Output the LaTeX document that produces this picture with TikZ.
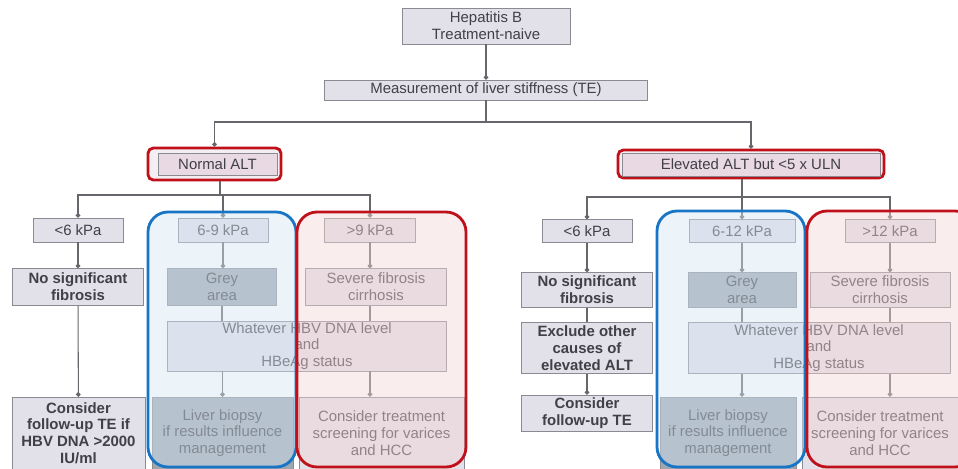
\documentclass[tikz,border=0pt]{standalone}
\usepackage{fontspec}
\setmainfont{Liberation Sans}
\usetikzlibrary{arrows.meta}
\definecolor{boxfill}{HTML}{E2E0E8}
\definecolor{boxline}{HTML}{8A8A92}
\definecolor{greyfill}{HTML}{9EA6AE}
\definecolor{txt}{HTML}{404046}
\definecolor{lnk}{HTML}{66666C}
\definecolor{hlred}{HTML}{C0101A}
\definecolor{hlblue}{HTML}{1874C4}
\definecolor{pinkfill}{HTML}{E8D9E2}
\tikzset{
  box/.style={draw=boxline, fill=boxfill, text=txt, align=center, inner sep=1pt,
    font=\fontsize{8.5}{9.5}\selectfont},
  greybox/.style={box, fill=greyfill},
  strong/.style={font=\fontsize{8.5}{9.5}\selectfont\bfseries},
  tight/.style={font=\fontsize{8.5}{9.3}\selectfont},
  link/.style={draw=lnk, line width=0.6pt},
  tip/.style={link, -{Circle[length=2.6pt]}},
  redline/.style={draw=hlred, line width=1.6pt, rounded corners=3pt},
}
\begin{document}
\begin{tikzpicture}[x=0.02cm, y=-0.02cm]
    \useasboundingbox (0,0) rectangle (958,468);
    %
    \node[box, minimum width=3.36cm, minimum height=0.72cm] (hep) at (486,26) {Hepatitis B\\Treatment-naive};
    \node[box, minimum width=6.46cm, minimum height=0.40cm] (meas) at (486,90) {Measurement of liver stiffness (TE)};
    %
    \node[redline, fill=pinkfill!45, minimum width=2.66cm, minimum height=0.64cm] (normalHL) at (214.5,164) {};
    \node[box, fill=pinkfill, minimum width=2.38cm, minimum height=0.44cm] (normal) at (217.5,164) {Normal ALT};
    \node[redline, fill=pinkfill!45, minimum width=5.32cm, minimum height=0.56cm] (elevHL) at (751,164) {};
    \node[box, fill=pinkfill, minimum width=5.16cm, minimum height=0.46cm] (elev) at (751,164.5) {Elevated ALT but <5 x ULN};
    %
    % normal ALT branch
    \node[box, minimum width=1.80cm, minimum height=0.48cm] (lowA) at (78,230) {<6 kPa};
    \node[box, minimum width=1.80cm, minimum height=0.48cm] (midA) at (223,230) {6-9 kPa};
    \node[box, minimum width=1.82cm, minimum height=0.48cm] (highA) at (370,230) {>9 kPa};
    \node[box, strong, minimum width=2.62cm, minimum height=0.74cm] (noFibA) at (78,287) {No significant\\fibrosis};
    \node[greybox, minimum width=2.18cm, minimum height=0.74cm] (greyA) at (222,287) {Grey\\area};
    \node[box, minimum width=2.82cm, minimum height=0.74cm] (sevA) at (376,287) {Severe fibrosis\\cirrhosis};
    \node[box, tight, minimum width=5.58cm, minimum height=1.00cm] (whatA) at (307,346) {Whatever HBV DNA level\\and\\HBeAg status};
    \node[box, strong, minimum width=2.66cm, minimum height=1.44cm] (consA) at (78.5,433) {Consider\\follow-up TE if\\HBV DNA >2000\\IU/ml};
    \node[greybox, minimum width=2.82cm, minimum height=1.44cm] (bioA) at (222.5,433) {Liver biopsy\\if results influence\\management};
    \node[box, minimum width=3.30cm, minimum height=1.44cm] (treatA) at (381.5,433) {Consider treatment\\screening for varices\\and HCC};
    %
    % elevated ALT branch
    \node[box, minimum width=1.80cm, minimum height=0.46cm] (lowB) at (587,231) {<6 kPa};
    \node[box, minimum width=2.12cm, minimum height=0.46cm] (midB) at (742,231) {6-12 kPa};
    \node[box, minimum width=1.80cm, minimum height=0.46cm] (highB) at (890,231) {>12 kPa};
    \node[box, strong, minimum width=2.62cm, minimum height=0.70cm] (noFibB) at (587,290) {No significant\\fibrosis};
    \node[greybox, minimum width=2.16cm, minimum height=0.70cm] (greyB) at (742,290) {Grey\\area};
    \node[box, minimum width=2.80cm, minimum height=0.70cm] (sevB) at (880,290) {Severe fibrosis\\cirrhosis};
    \node[box, strong, minimum width=2.62cm, minimum height=1.02cm] (exclB) at (587,348) {Exclude other\\causes of\\elevated ALT};
    \node[box, tight, minimum width=5.24cm, minimum height=1.02cm] (whatB) at (819,348) {Whatever HBV DNA level\\and\\HBeAg status};
    \node[box, strong, minimum width=2.62cm, minimum height=0.72cm] (consB) at (587,413) {Consider\\follow-up TE};
    \node[greybox, minimum width=2.72cm, minimum height=1.44cm] (bioB) at (728,433) {Liver biopsy\\if results influence\\management};
    \node[box, minimum width=3.12cm, minimum height=1.44cm] (treatB) at (880,433) {Consider treatment\\screening for varices\\and HCC};
    %
    \coordinate (split) at (486,122);
    \coordinate (splitA) at (220,195);
    \coordinate (splitB) at (742,197);
    %
    \draw[tip] (hep) -- (meas);
    \draw[link] (meas) -- (split);
    \draw[tip] (split) -| (normalHL);
    \draw[tip] (split) -| (elevHL);
    %
    \draw[link] (normalHL.south -| splitA) -- (splitA);
    \draw[tip] (splitA) -| (lowA);
    \draw[tip] (splitA) -| (midA);
    \draw[tip] (splitA) -| (highA);
    \draw[tip] (lowA) -- (noFibA);
    \draw[tip] (midA) -- (midA |- greyA.north);
    \draw[tip] (highA) -- (highA |- sevA.north);
    \draw[tip] (noFibA) -- (consA);
    \draw[link] (greyA) -- (greyA |- whatA.north);
    \draw[link] (sevA.south -| highA) -- (highA |- whatA.north);
    \draw[tip] (whatA.south -| bioA) -- (bioA);
    \draw[tip] (whatA.south -| highA) -- (highA |- treatA.north);
    %
    \draw[link] (elevHL.south -| splitB) -- (splitB);
    \draw[tip] (splitB) -| (lowB);
    \draw[tip] (splitB) -- (midB);
    \draw[tip] (splitB) -| (highB);
    \draw[tip] (lowB) -- (noFibB);
    \draw[link] (noFibB) -- (exclB);
    \draw[tip] (exclB) -- (consB);
    \draw[tip] (midB) -- (greyB);
    \draw[link] (greyB) -- (greyB |- whatB.north);
    \draw[tip] (highB) -- (highB |- sevB.north);
    \draw[link] (sevB.south -| highB) -- (highB |- whatB.north);
    \draw[tip] (whatB.south -| midB) -- (midB |- bioB.north);
    \draw[tip] (whatB.south -| highB) -- (highB |- treatB.north);
    %
    % highlighted regions
    \filldraw[draw=hlblue, fill=hlblue!18, fill opacity=0.45, line width=1.6pt, rounded corners=0.4cm] (148,212) rectangle (296,467);
    \filldraw[draw=hlred, fill=hlred!17, fill opacity=0.45, line width=1.6pt, rounded corners=0.4cm] (297,212) rectangle (466,467);
    \filldraw[draw=hlblue, fill=hlblue!18, fill opacity=0.45, line width=1.6pt, rounded corners=0.4cm] (657,211) rectangle (805,467);
    \filldraw[draw=hlred, fill=hlred!17, fill opacity=0.45, line width=1.6pt, rounded corners=0.4cm] (807,211) rectangle (975,467);
\end{tikzpicture}
\end{document}
